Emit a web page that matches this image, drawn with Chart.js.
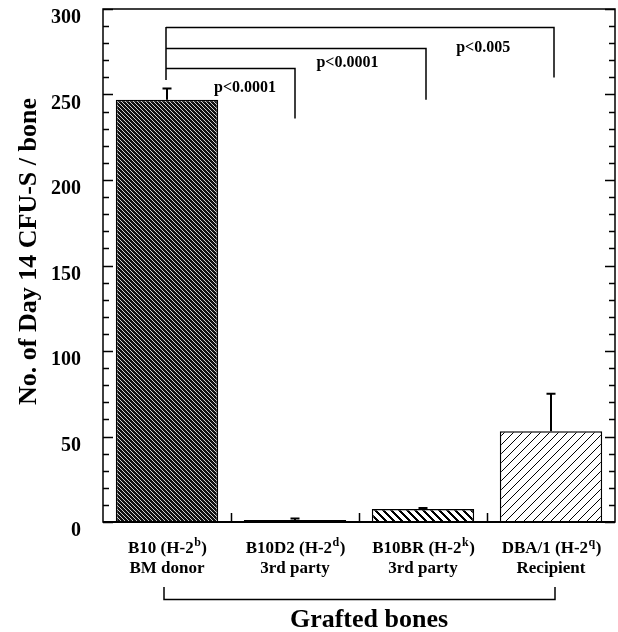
<!DOCTYPE html>
<html>
<head>
<meta charset="utf-8">
<script src="https://cdn.jsdelivr.net/npm/chart.js@4.4.0/dist/chart.umd.min.js"></script>
<style>
  html, body { margin: 0; padding: 0; background: #fff; }
  #wrap { width: 618px; height: 632px; }
</style>
</head>
<body>
<div id="wrap"><canvas id="cfuChart"></canvas></div>
<script>
/* Day 14 CFU-S per grafted bone */
const strains    = ['B10', 'B10D2', 'B10BR', 'DBA/1'];
const haplotypes = ['b', 'd', 'k', 'q'];
const roles      = ['BM donor', '3rd party', '3rd party', 'Recipient'];
const cfuMean    = [247, 1.2, 7.6, 53];
const cfuErr     = [6.5, 0.8, 0.6, 22];
const yTicks     = [0, 50, 100, 150, 200, 250, 300];

/* p values, each bone compared against the donor bone (index 0) */
const sigTo     = [1, 2, 3];
const sigLabels = ['p<0.0001', 'p<0.0001', 'p<0.005'];

const SERIF = '"Liberation Serif", "Times New Roman", serif';

function makePattern(ctx, size, bg, fg, ink) {
    const c = document.createElement('canvas');
    c.width = c.height = size;
    const g = c.getContext('2d');
    g.fillStyle = bg;
    g.fillRect(0, 0, size, size);
    g.fillStyle = fg;
    for (let y = 0; y < size; y++)
        for (let x = 0; x < size; x++)
            if (ink(x, y)) g.fillRect(x, y, 1, 1);
    return ctx.createPattern(c, 'repeat');
}

const ctx = document.getElementById('cfuChart').getContext('2d');
const fills = [
    makePattern(ctx, 4, '#111', '#d0d0d0', (x, y) => x === y),
    '#000',
    makePattern(ctx, 8, '#fff', '#000', (x, y) => (x - y + 8) % 8 < 3),
    makePattern(ctx, 9, '#fff', '#000', (x, y) => (x + y) % 9 === 0)
];

/* frame, inward ticks, error bars, labels and brackets */
const decorations = {
    id: 'decorations',
    afterDraw(chart) {
        const { ctx, chartArea: a, scales: { x, y } } = chart;
        ctx.save();
        ctx.strokeStyle = '#000';
        ctx.fillStyle = '#000';

        // frame
        ctx.lineWidth = 1.5;
        ctx.strokeRect(a.left, a.top, a.right - a.left, a.bottom - a.top);
        ctx.lineWidth = 2;
        ctx.beginPath();
        ctx.moveTo(a.left, a.bottom); ctx.lineTo(a.right, a.bottom);
        ctx.stroke();

        // y ticks on both sides, pointing in
        ctx.lineWidth = 1.5;
        ctx.beginPath();
        for (let v = 0; v <= 300; v += 10) {
            const py = Math.round(y.getPixelForValue(v)) + 0.5;
            const len = v % 50 === 0 ? 10 : 6;
            ctx.moveTo(a.left, py); ctx.lineTo(a.left + len, py);
            ctx.moveTo(a.right, py); ctx.lineTo(a.right - len, py);
        }
        // x ticks between categories
        for (let i = 0; i < strains.length - 1; i++) {
            const px = Math.round((x.getPixelForValue(i) + x.getPixelForValue(i + 1)) / 2) + 0.5;
            ctx.moveTo(px, a.bottom); ctx.lineTo(px, a.bottom - 9);
        }
        ctx.stroke();

        // error bars
        ctx.lineWidth = 2;
        ctx.beginPath();
        cfuMean.forEach((m, i) => {
            const px = x.getPixelForValue(i);
            const top = y.getPixelForValue(m + cfuErr[i]);
            ctx.moveTo(px, y.getPixelForValue(m)); ctx.lineTo(px, top);
            ctx.moveTo(px - 4.5, top); ctx.lineTo(px + 4.5, top);
        });
        ctx.stroke();

        // significance brackets
        const level = [265.5, 277.2, 289.5];
        const foot  = [236, 247, 260];
        const nudge = [0, 3, 3];
        const textX = [0.61, 1.41, 2.47];
        const textY = [251.5, 266, 274.9];
        const x0 = x.getPixelForValue(0) - 1;
        ctx.lineWidth = 1.5;
        ctx.beginPath();
        ctx.moveTo(x0, y.getPixelForValue(258.5));
        ctx.lineTo(x0, y.getPixelForValue(level[level.length - 1]));
        sigTo.forEach((t, i) => {
            const x1 = x.getPixelForValue(t) + nudge[i];
            const ly = Math.round(y.getPixelForValue(level[i])) + 0.5;
            ctx.moveTo(x0, ly); ctx.lineTo(x1, ly);
            ctx.lineTo(x1, y.getPixelForValue(foot[i]));
        });
        ctx.stroke();
        ctx.font = 'bold 16px ' + SERIF;
        ctx.textAlign = 'center';
        ctx.textBaseline = 'alphabetic';
        sigLabels.forEach((s, i) => {
            const px = x.getPixelForValue(0) + textX[i] * (x.getPixelForValue(1) - x.getPixelForValue(0));
            ctx.fillText(s, px, y.getPixelForValue(textY[i]));
        });

        // category labels with superscript haplotype
        const main = 'bold 17px ' + SERIF, sup = 'bold 12px ' + SERIF;
        ctx.textAlign = 'left';
        strains.forEach((s, i) => {
            const cx = x.getPixelForValue(i);
            const a1 = s + ' (H-2', a2 = haplotypes[i], a3 = ')';
            ctx.font = main; const w1 = ctx.measureText(a1).width, w3 = ctx.measureText(a3).width;
            ctx.font = sup;  const w2 = ctx.measureText(a2).width;
            let px = cx - (w1 + w2 + w3) / 2;
            const base = a.bottom + 31;
            ctx.font = main; ctx.fillText(a1, px, base); px += w1;
            ctx.font = sup;  ctx.fillText(a2, px + 0.5, base - 7); px += w2 + 1;
            ctx.font = main; ctx.fillText(a3, px, base);
            ctx.textAlign = 'center';
            ctx.fillText(roles[i], cx, a.bottom + 51);
            ctx.textAlign = 'left';
        });

        // bracket under the categories
        const bl = x.getPixelForValue(0) - 3, br = x.getPixelForValue(strains.length - 1) + 4;
        ctx.lineWidth = 1.5;
        ctx.beginPath();
        ctx.moveTo(bl, a.bottom + 65); ctx.lineTo(bl, a.bottom + 77.5);
        ctx.lineTo(br, a.bottom + 77.5); ctx.lineTo(br, a.bottom + 65);
        ctx.stroke();

        // axis titles
        ctx.font = 'bold 26px ' + SERIF;
        ctx.textAlign = 'center';
        ctx.fillText('Grafted bones', (a.left + a.right) / 2 + 10, a.bottom + 105);
        ctx.save();
        ctx.translate(36, (a.top + a.bottom) / 2 - 14);
        ctx.rotate(-Math.PI / 2);
        ctx.font = 'bold 26px ' + SERIF;
        ctx.fillText('No. of Day 14 CFU-S / bone', 0, 0);
        ctx.restore();

        ctx.restore();
    }
};

new Chart(ctx, {
    type: 'bar',
    data: {
        labels: strains,
        datasets: [{
            data: cfuMean,
            backgroundColor: fills,
            borderColor: '#000',
            borderWidth: 1.5,
            categoryPercentage: 1,
            barPercentage: 0.8,
        }]
    },
    options: {
        responsive: true,
        maintainAspectRatio: false,
        animation: false,
        layout: { padding: { top: 9, right: 3, bottom: 0, left: 0 } },
        plugins: { legend: { display: false }, tooltip: { enabled: false } },
        scales: {
            x: {
                grid: { display: false, drawTicks: false },
                border: { display: false },
                ticks: { display: false },
                afterFit: s => { s.height = 110; s.paddingLeft = 0; s.paddingRight = 0; }
            },
            y: {
                min: 0,
                max: 300,
                grid: { display: false, drawTicks: false },
                border: { display: false },
                ticks: {
                    stepSize: 10,
                    autoSkip: false,
                    padding: 22,
                    labelOffset: 9,
                    color: '#000',
                    font: { family: SERIF, size: 20, weight: 'bold' },
                    callback: v => yTicks.includes(v) ? String(v) : ''
                },
                afterFit: s => { s.width = 103; s.paddingTop = 0; s.paddingBottom = 0; }
            }
        }
    },
    plugins: [decorations]
});
</script>
</body>
</html>
